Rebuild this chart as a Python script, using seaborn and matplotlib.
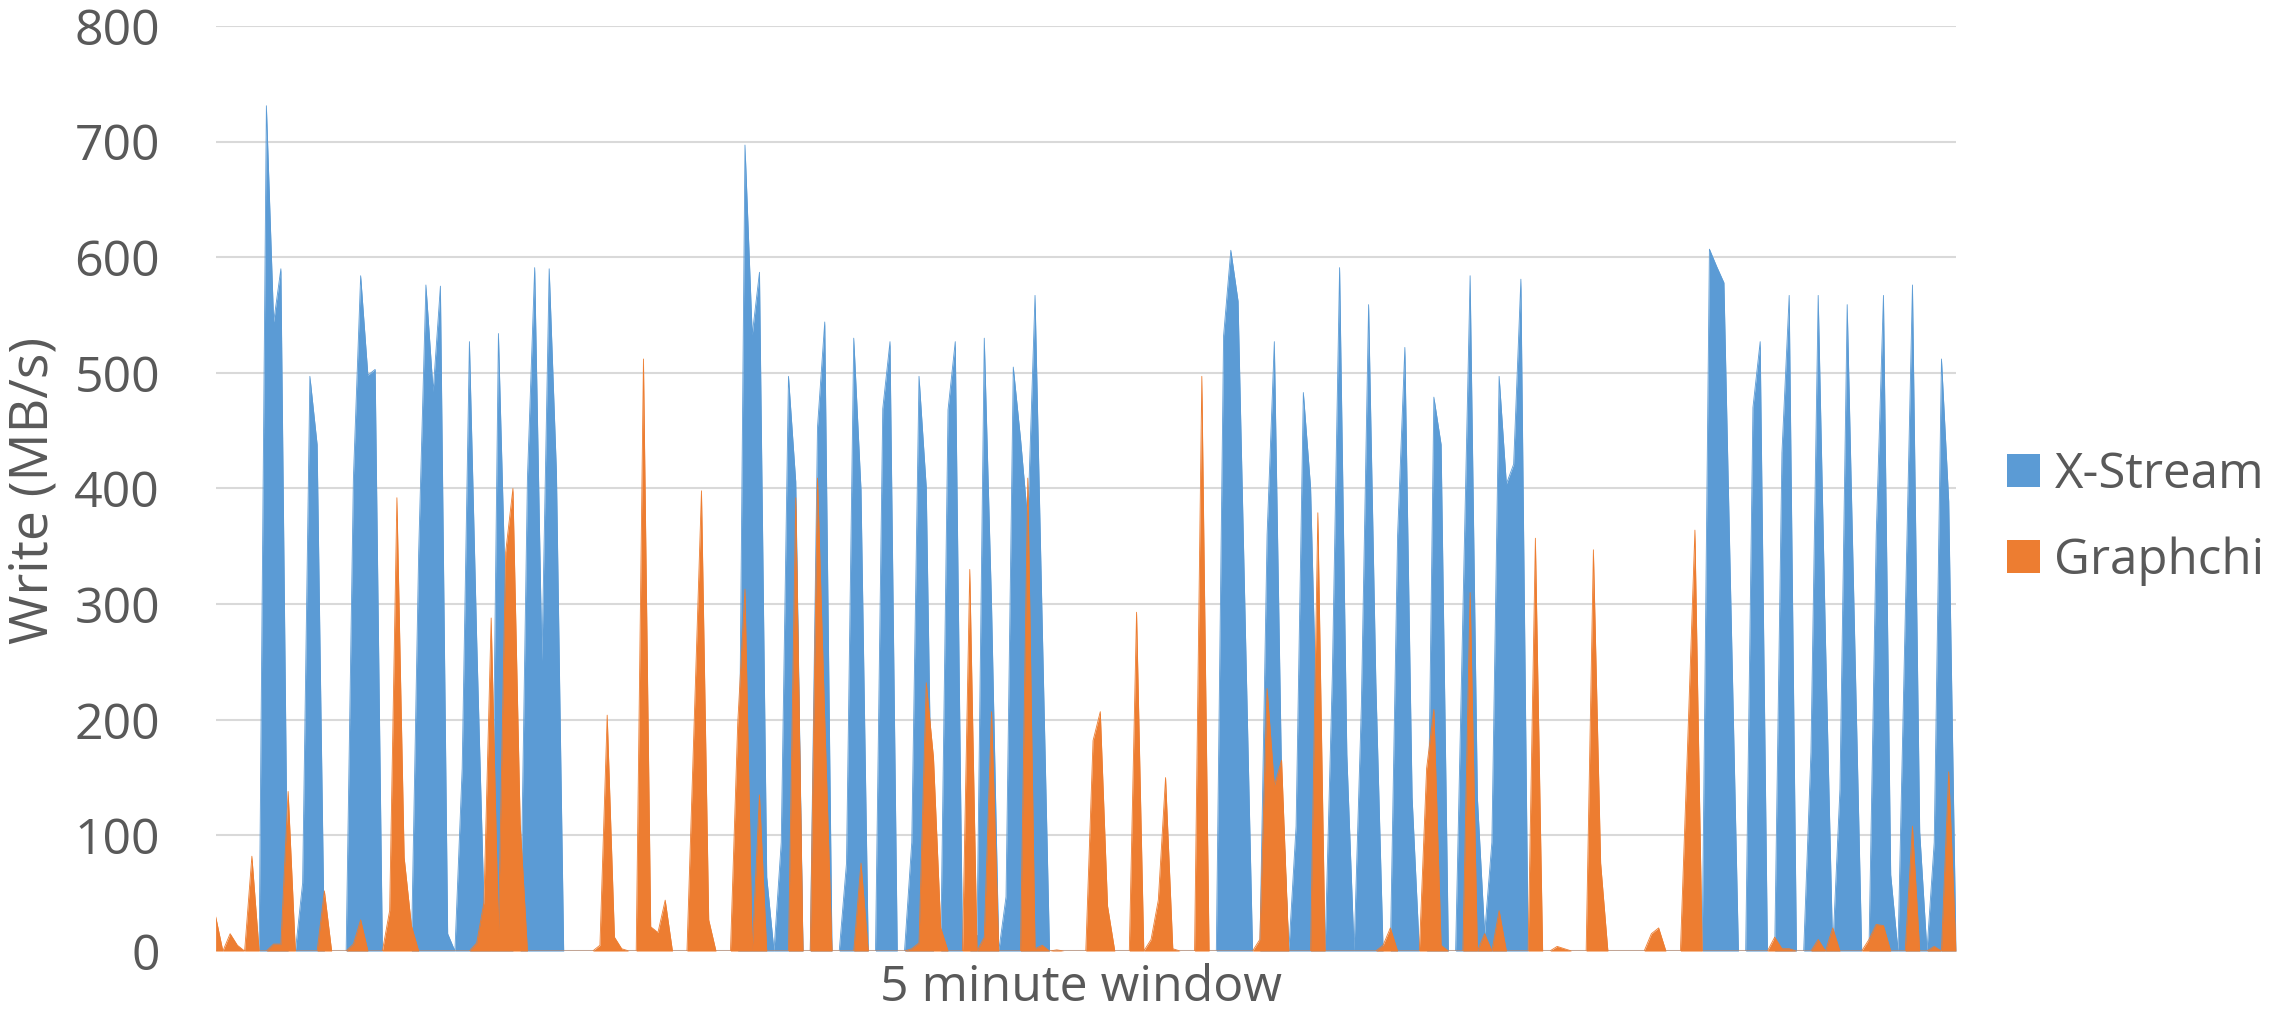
import numpy as np
import pandas as pd
import matplotlib
matplotlib.use("Agg")
import matplotlib.pyplot as plt
import seaborn as sns
from matplotlib.patches import Patch

# --- dados (241 amostras na janela de 5 minutos) ---
xstream = [
    0, 0, 0, 0, 0, 0, 0, 731, 544, 590,
    0, 0, 59, 497, 438, 0, 0, 0, 0, 409,
    584, 498, 503, 0, 0, 0, 0, 0, 345, 576,
    484, 575, 15, 0, 158, 527, 270, 40, 0, 534,
    300, 0, 0, 409, 591, 251, 590, 414, 0, 0,
    0, 0, 0, 0, 0, 0, 0, 0, 0, 0,
    0, 0, 0, 0, 0, 0, 0, 0, 0, 0,
    0, 0, 0, 697, 533, 587, 64, 0, 94, 497,
    406, 0, 0, 453, 544, 0, 0, 76, 530, 399,
    0, 0, 469, 527, 0, 0, 94, 497, 401, 0,
    0, 468, 527, 0, 0, 15, 530, 300, 0, 47,
    505, 443, 372, 567, 280, 0, 0, 0, 0, 0,
    0, 0, 0, 0, 0, 0, 0, 0, 0, 0,
    0, 0, 0, 0, 0, 0, 0, 0, 0, 532,
    606, 562, 280, 0, 0, 360, 527, 150, 0, 108,
    483, 401, 150, 0, 239, 591, 170, 0, 212, 559,
    232, 0, 0, 360, 522, 133, 0, 0, 479, 438,
    0, 0, 290, 584, 133, 15, 94, 497, 404, 421,
    581, 0, 0, 0, 0, 0, 0, 0, 0, 0,
    0, 0, 0, 0, 0, 0, 0, 0, 0, 0,
    0, 0, 0, 0, 0, 0, 607, 592, 578, 289,
    0, 0, 470, 527, 0, 0, 431, 567, 0, 0,
    172, 567, 270, 0, 140, 559, 280, 0, 0, 360,
    567, 66, 0, 290, 576, 103, 0, 94, 512, 389,
    0,
]

graphchi = [
    30, 0, 15, 5, 0, 82, 0, 0, 6, 6,
    138, 0, 0, 0, 0, 52, 0, 0, 0, 6,
    27, 0, 0, 0, 35, 392, 81, 22, 0, 0,
    0, 0, 0, 0, 0, 0, 7, 42, 288, 15,
    345, 400, 110, 0, 0, 0, 0, 0, 0, 0,
    0, 0, 0, 5, 204, 12, 2, 0, 0, 512,
    21, 16, 44, 0, 0, 0, 200, 398, 27, 0,
    0, 0, 197, 313, 0, 135, 0, 0, 0, 0,
    392, 0, 0, 409, 200, 0, 0, 0, 0, 76,
    0, 0, 0, 0, 0, 0, 2, 7, 232, 167,
    20, 0, 0, 0, 330, 0, 12, 207, 0, 0,
    0, 0, 409, 2, 5, 0, 1, 0, 0, 0,
    0, 182, 207, 39, 0, 0, 0, 293, 0, 10,
    44, 150, 2, 0, 0, 0, 497, 0, 0, 0,
    0, 0, 0, 0, 10, 227, 143, 165, 0, 0,
    0, 0, 379, 0, 0, 0, 0, 0, 0, 0,
    0, 5, 20, 0, 0, 0, 0, 158, 209, 5,
    0, 0, 0, 310, 0, 15, 0, 35, 0, 0,
    0, 0, 357, 0, 0, 4, 2, 0, 0, 0,
    347, 76, 0, 0, 0, 0, 0, 0, 15, 20,
    0, 0, 0, 180, 364, 0, 0, 0, 0, 0,
    0, 0, 0, 0, 0, 12, 2, 2, 0, 0,
    0, 10, 0, 20, 0, 0, 0, 0, 10, 23,
    22, 0, 0, 0, 108, 0, 0, 4, 0, 155,
    0,
]

series_names = ["X-Stream", "Graphchi"]
y_ticks = [0, 100, 200, 300, 400, 500, 600, 700, 800]
x_label = "5 minute window"
y_label = "Write (MB/s)"

BLUE = "#5B9BD5"
ORANGE = "#ED7D31"
TEXT = "#595959"
GRID = "#D9D9D9"

df = pd.DataFrame({"t": np.arange(len(xstream)), series_names[0]: xstream, series_names[1]: graphchi})

sns.set_theme(style="white")
plt.rcParams["font.family"] = ["Open Sans", "DejaVu Sans"]

fig = plt.figure(figsize=(22.72, 10.14), dpi=100)
# área de plotagem: x 216..1956 px, y 26..951 px
ax = fig.add_axes([0.0949, 0.0621, 0.7660, 0.9123])

# áreas sobrepostas (não empilhadas), Graphchi por cima
for name, cor, z in [(series_names[0], BLUE, 2), (series_names[1], ORANGE, 3)]:
    ax.fill_between(df["t"], 0, df[name], color=cor, linewidth=0, zorder=z)
    sns.lineplot(data=df, x="t", y=name, ax=ax, color=cor, linewidth=0.6, zorder=z)

ax.set_xlim(0, len(xstream) - 1)
ax.set_ylim(0, 800)
ax.set_yticks(y_ticks)
ax.set_yticklabels([str(v) for v in y_ticks], fontsize=36, color=TEXT)
ax.set_xticks([])
ax.tick_params(axis="y", length=0, pad=40)
ax.yaxis.grid(True, color=GRID, linewidth=1.5, zorder=0)
ax.set_axisbelow(True)
for s in ax.spines.values():
    s.set_visible(False)
ax.set_xlabel("")
ax.set_ylabel("")

fig.text(0.0148, 0.516, y_label, rotation=90, ha="center", va="center", fontsize=38.5, color=TEXT)
fig.text(0.476, 0.013, x_label, ha="center", va="baseline", fontsize=36, color=TEXT)

handles = [Patch(facecolor=BLUE, edgecolor="none"), Patch(facecolor=ORANGE, edgecolor="none")]
fig.legend(handles, series_names, loc="center left", bbox_to_anchor=(0.8834, 0.489),
           frameon=False, fontsize=35.5, labelcolor=TEXT, handlelength=0.66, handleheight=0.66,
           handletextpad=0.3, labelspacing=0.75, borderpad=0, borderaxespad=0)

fig.savefig("out.png", dpi=100)
